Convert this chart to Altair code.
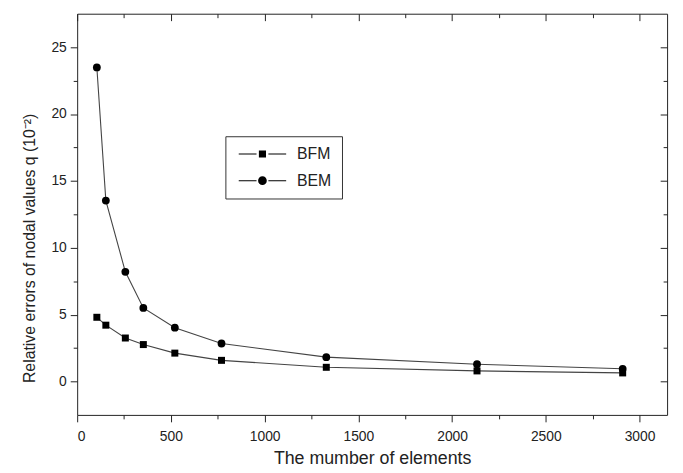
import altair as alt
import pandas as pd

# ---- data ----
n_elements = [105, 153, 257, 353, 521, 770, 1329, 2133, 2910]
bfm_err = [4.80, 4.21, 3.25, 2.76, 2.12, 1.58, 1.06, 0.79, 0.64]
bem_err = [23.48, 13.53, 8.20, 5.50, 4.02, 2.84, 1.82, 1.29, 0.95]
series_names = ["BFM", "BEM"]

x_major = [0, 500, 1000, 1500, 2000, 2500, 3000]
x_minor = [250, 750, 1250, 1750, 2250, 2750]
y_major = [0, 5, 10, 15, 20, 25]
y_minor = [2.5, 7.5, 12.5, 17.5, 22.5]
x_domain = [0, 3147]
y_domain = [-2.5, 27.5]

x_title = "The mumber of elements"
y_title = "Relative errors of nodal values q (10\u207b\u00b2)"

rows = []
for n, v in zip(n_elements, bfm_err):
    rows.append({"n": n, "err": v, "series": "BFM"})
for n, v in zip(n_elements, bem_err):
    rows.append({"n": n, "err": v, "series": "BEM"})
df = pd.DataFrame(rows)

FONT = "Liberation Sans"
INK = "#222222"

xs = alt.Scale(domain=x_domain, nice=False, zero=False)
ys = alt.Scale(domain=y_domain, nice=False, zero=False)


def axis(orient, values, size, labels=False, offset=0, title=None, **kw):
    args = dict(
        orient=orient, values=values, tickSize=size, tickColor=INK, tickWidth=1,
        domain=False, grid=False, labels=labels, offset=offset,
        labelFont=FONT, labelFontSize=14, labelColor=INK, format="d",
        titleFont=FONT, titleFontSize=18, titleFontWeight="normal", titleColor=INK,
    )
    args.update(kw)
    args["title"] = title if title is not None else None
    return alt.Axis(**args)


lines = alt.Chart(df).mark_line(color="#444444", strokeWidth=1.1).encode(
    x=alt.X("n:Q", scale=xs, axis=axis("bottom", x_major, 7, labels=True, title=x_title,
                                        labelPadding=8, titlePadding=6)),
    y=alt.Y("err:Q", scale=ys, axis=axis("left", y_major, 7, labels=True, title=y_title,
                                          labelPadding=4, titlePadding=14, titleY=237,
                                          titleFontSize=16)),
    detail="series:N",
)

points = alt.Chart(df).mark_point(filled=True, color="black", opacity=1).encode(
    x=alt.X("n:Q", scale=xs, axis=None),
    y=alt.Y("err:Q", scale=ys, axis=None),
    shape=alt.Shape("series:N", scale=alt.Scale(domain=series_names, range=["square", "circle"]), legend=None),
    size=alt.condition("datum.series == 'BFM'", alt.value(50), alt.value(62)),
)

minor_bl = alt.Chart(df).mark_point(opacity=0).encode(
    x=alt.X("n:Q", scale=xs, axis=axis("bottom", x_minor, 4)),
    y=alt.Y("err:Q", scale=ys, axis=axis("left", y_minor, 4)),
)

major_tr = alt.Chart(df).mark_point(opacity=0).encode(
    x=alt.X("n:Q", scale=xs, axis=axis("top", x_major, 7, offset=-7)),
    y=alt.Y("err:Q", scale=ys, axis=axis("right", y_major, 7, offset=-7)),
)

minor_tr = alt.Chart(df).mark_point(opacity=0).encode(
    x=alt.X("n:Q", scale=xs, axis=axis("top", x_minor, 4, offset=-4)),
    y=alt.Y("err:Q", scale=ys, axis=axis("right", y_minor, 4, offset=-4)),
)

# legend symbols: line - marker - line (line pieces as thin filled bars)
bar_l = "M-6,-0.13H-1.5V0.13H-6Z"
bar_r = "M1.5,-0.13H6V0.13H1.5Z"
sq_path = bar_l + bar_r + "M-0.9,-0.9H0.9V0.9H-0.9Z"
circ_path = bar_l + bar_r + "M-1.1,0A1.1,1.1 0 1,1 1.1,0A1.1,1.1 0 1,1 -1.1,0Z"

legend_layer = alt.Chart(df).transform_filter("false").mark_point(
    filled=True, fill="black", size=64, opacity=1
).encode(
    shape=alt.Shape(
        "series:N",
        scale=alt.Scale(domain=series_names, range=[sq_path, circ_path]),
        legend=alt.Legend(
            title=None, orient="none", legendX=150, legendY=124,
            padding=10, strokeColor="#333333", fillColor="white",
            labelFont=FONT, labelFontSize=16, labelColor=INK,
            symbolSize=64, symbolOffset=19.5, labelOffset=27, rowPadding=11,
            symbolFillColor="black",
        ),
    )
)

chart = alt.layer(lines, points, minor_bl, major_tr, minor_tr, legend_layer).resolve_scale(
    shape="independent"
).resolve_axis(
    x="independent", y="independent"
).properties(
    width=597, height=406,
    autosize=alt.AutoSizeParams(type="none"),
    padding={"left": 70, "top": 3, "right": 8, "bottom": 56},
).configure_view(
    stroke=INK, strokeWidth=1
)

chart.save("out.html", embed_options={"renderer": "svg", "actions": False})
